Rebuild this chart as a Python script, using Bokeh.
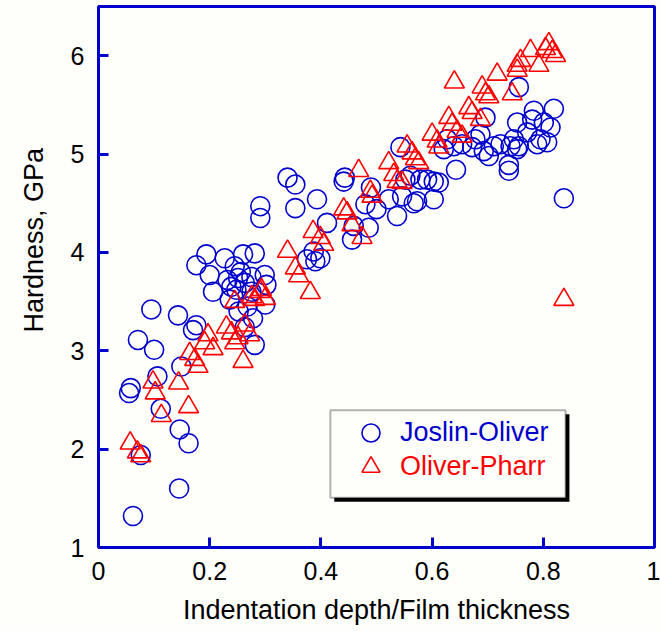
from bokeh.plotting import figure
from bokeh.models import (FixedTicker, NumeralTickFormatter, BoxAnnotation, Legend, LegendItem,
                          Range1d, Title)
from bokeh.embed import file_html
from bokeh.resources import INLINE

# Joslin-Oliver (blue circles)
jo_x = [0.055, 0.058, 0.106, 0.112, 0.146, 0.162, 0.076, 0.145, 0.062,
        0.071, 0.100, 0.095, 0.143, 0.176, 0.170, 0.149,
        0.176, 0.194, 0.200, 0.206, 0.227, 0.245, 0.251, 0.263, 0.239, 0.275, 0.236, 0.275,
        0.260, 0.281, 0.299, 0.302, 0.278, 0.263, 0.281, 0.300, 0.232, 0.256, 0.248, 0.268, 0.252,
        0.291, 0.291, 0.340, 0.354, 0.354, 0.393,
        0.375, 0.387, 0.399, 0.390, 0.411,
        0.441, 0.443, 0.456, 0.459, 0.486, 0.480, 0.500, 0.490,
        0.522, 0.537, 0.546, 0.552, 0.561, 0.567, 0.573, 0.579, 0.591, 0.603, 0.612, 0.603,
        0.543, 0.643,
        0.621, 0.627, 0.639, 0.654, 0.672, 0.678, 0.687, 0.693, 0.702, 0.711, 0.723, 0.741,
        0.747, 0.753, 0.738, 0.738, 0.696, 0.753, 0.780, 0.783, 0.819, 0.801, 0.813, 0.771,
        0.807, 0.789, 0.756, 0.837, 0.795, 0.756]
jo_y = [2.57, 2.62, 2.74, 2.41, 2.20, 2.06, 1.94, 1.60, 1.32,
        3.11, 3.01, 3.42, 3.36, 3.26, 3.21, 2.84,
        3.87, 3.98, 3.77, 3.60, 3.94, 3.86, 3.74, 3.69, 3.65, 3.75, 3.52, 3.60,
        3.98, 3.99, 3.77, 3.67, 3.33, 3.24, 3.06, 3.47, 3.72, 3.80, 3.62, 3.45, 3.40,
        4.35, 4.47, 4.76, 4.69, 4.45, 4.54,
        3.93, 4.01, 3.94, 3.91, 4.30,
        4.72, 4.76, 4.13, 4.27, 4.25, 4.49, 4.44, 4.66,
        4.54, 4.37, 4.57, 4.74, 4.78, 4.50, 4.52, 4.74, 4.74, 4.72, 4.71, 4.54,
        5.07, 4.84,
        5.05, 5.15, 5.08, 5.10, 5.07, 5.15, 5.20, 5.03, 4.98, 5.08, 5.10, 5.08,
        5.15, 5.05, 4.89, 4.83, 5.37, 5.32, 5.35, 5.44, 5.46, 5.32, 5.27, 5.22,
        5.12, 5.10, 5.68, 4.55, 5.15, 5.08]

# Oliver-Pharr (red triangles)
op_x = [0.057, 0.070, 0.076, 0.098, 0.102, 0.113, 0.144, 0.162,
        0.164, 0.173, 0.179, 0.191, 0.197, 0.206, 0.230, 0.239, 0.251, 0.245, 0.263, 0.272, 0.260,
        0.245, 0.276, 0.291, 0.300, 0.281, 0.293,
        0.340, 0.354, 0.360, 0.381, 0.386, 0.399, 0.405,
        0.441, 0.447, 0.456, 0.474, 0.468, 0.489, 0.492, 0.522, 0.531, 0.537, 0.546,
        0.555, 0.564, 0.570, 0.576, 0.600, 0.609, 0.612, 0.630, 0.636, 0.645, 0.654,
        0.640, 0.666, 0.672, 0.687, 0.690, 0.696, 0.702, 0.717, 0.744, 0.753, 0.753, 0.759,
        0.777, 0.792, 0.804, 0.810, 0.816, 0.822, 0.837]
op_y = [2.06, 1.97, 1.93, 2.68, 2.57, 2.34, 2.67, 2.43,
        2.97, 2.91, 2.84, 3.08, 3.16, 3.02, 3.24, 3.18, 3.13, 3.08, 3.26, 3.16, 2.89,
        3.50, 3.55, 3.60, 3.53, 3.52, 3.62,
        4.01, 3.84, 3.76, 3.59, 4.21, 4.15, 4.08,
        4.44, 4.40, 4.28, 4.15, 4.83, 4.62, 4.57, 4.91, 4.79, 4.72, 4.71,
        5.08, 5.01, 4.95, 4.91, 5.20, 5.13, 5.07, 5.37, 5.30, 5.23, 5.18,
        5.73, 5.47, 5.42, 5.35, 5.68, 5.61, 5.58, 5.81, 5.61, 5.85, 5.90, 5.95,
        6.05, 5.90, 6.07, 6.12, 6.04, 6.00, 3.52]

x_ticks = [0, 0.2, 0.4, 0.6, 0.8, 1]
y_ticks = [1, 2, 3, 4, 5, 6]

BLUE = "#0000CC"
RED = "#FF0000"
BG = "#FEFEFB"
FONT = "Liberation Sans"

p = figure(width=660, height=631, output_backend="svg", toolbar_location=None,
           x_range=Range1d(0, 1), y_range=Range1d(1, 6.5),
           min_border_left=98, min_border_right=6, min_border_top=6, min_border_bottom=84)
p.background_fill_color = BG
p.border_fill_color = BG
p.outline_line_color = BLUE
p.outline_line_width = 3
p.xgrid.visible = False
p.ygrid.visible = False

for ax in (p.xaxis[0], p.yaxis[0]):
    ax.axis_line_color = None
    ax.major_tick_in = 10
    ax.major_tick_out = 0
    ax.major_tick_line_color = BLUE
    ax.major_tick_line_width = 3
    ax.minor_tick_line_color = None
    ax.major_label_text_font = FONT
    ax.major_label_text_font_size = "25px"
    ax.major_label_text_color = "black"
    ax.axis_label_text_font = FONT
    ax.axis_label_text_font_size = "27px"
    ax.axis_label_text_font_style = "normal"
    ax.axis_label_text_color = "black"

p.xaxis[0].ticker = FixedTicker(ticks=x_ticks)
p.xaxis[0].formatter = NumeralTickFormatter(format="0.[0]")
p.xaxis[0].major_label_standoff = 14
p.xaxis[0].axis_label = "Indentation depth/Film thickness"
p.xaxis[0].axis_label_standoff = 12

p.yaxis[0].ticker = FixedTicker(ticks=y_ticks)
p.yaxis[0].formatter = NumeralTickFormatter(format="0")
p.yaxis[0].major_label_standoff = 14

# y-axis title, placed a little above the frame centre as in the original
ytitle = Title(text="Hardness, GPa", align="left", offset=215, vertical_align="top",
               standoff=34, text_font=FONT, text_font_size="27px",
               text_font_style="normal", text_color="black")
p.add_layout(ytitle, "left")

r_jo = p.scatter(jo_x, jo_y, marker="circle", size=19, fill_color=None,
                 line_color=BLUE, line_width=1.6)
r_op = p.scatter(op_x, op_y, marker="triangle", size=20, fill_color=None,
                 line_color=RED, line_width=1.6)

# legend box with drop shadow
shadow = BoxAnnotation(left=0.424, right=0.847, bottom=1.466, top=2.354,
                       fill_color="black", fill_alpha=1, line_color=None)
box = BoxAnnotation(left=0.417, right=0.840, bottom=1.507, top=2.395,
                    fill_color=BG, fill_alpha=1, line_color="black", line_width=2)
p.add_layout(shadow)
p.add_layout(box)

for item, color, loc in ((LegendItem(label="Joslin-Oliver", renderers=[r_jo]), BLUE, (250, 92)),
                         (LegendItem(label="Oliver-Pharr", renderers=[r_op]), RED, (250, 58))):
    lg = Legend(items=[item], location=loc, glyph_width=45, glyph_height=45,
                padding=0, margin=0, label_standoff=7, spacing=0,
                background_fill_alpha=0, border_line_alpha=0,
                label_text_font=FONT, label_text_font_size="27px",
                label_text_color=color)
    p.add_layout(lg, "center")

open("out.html", "w").write(file_html(p, INLINE))
